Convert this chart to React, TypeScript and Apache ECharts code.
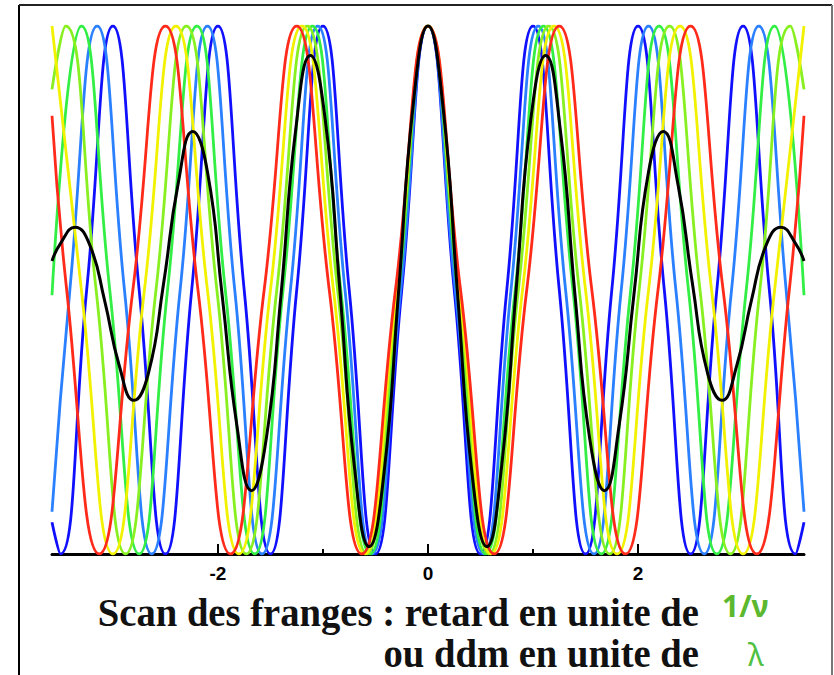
import React, { useEffect, useRef } from "react";
import * as echarts from "echarts";

// x-axis (delay in units of 1/nu) tick values and labels
const tickValues = [-2, 0, 2];
const tickLabels = ["-2", "0", "2"];
const minorTickValues = [-1, 1];
const xMin = -3.58;
const xMax = 3.58;

// Fringe intensity curves: [delay, normalized intensity]
const blueCurve: number[][] = [
  [-3.58, 0.06], [-3.5, 0], [-3.25, 0.5], [-3, 1], [-2.75, 0.5], [-2.5, 0], [-2.25, 0.5], [-2, 1],
  [-1.75, 0.5], [-1.5, 0], [-1.25, 0.5], [-1, 1], [-0.75, 0.5], [-0.5, 0], [-0.25, 0.5], [0, 1],
  [0.25, 0.5], [0.5, 0], [0.75, 0.5], [1, 1], [1.25, 0.5], [1.5, 0], [1.75, 0.5], [2, 1],
  [2.25, 0.5], [2.5, 0], [2.75, 0.5], [3, 1], [3.25, 0.5], [3.5, 0], [3.58, 0.06],
];
const lightBlueCurve: number[][] = [
  [-3.58, 0.08], [-3.41, 0.5], [-3.15, 1], [-2.89, 0.5], [-2.63, 0], [-2.36, 0.5], [-2.1, 1],
  [-1.84, 0.5], [-1.58, 0], [-1.31, 0.5], [-1.05, 1], [-0.79, 0.5], [-0.53, 0], [-0.26, 0.5], [0, 1],
  [0.26, 0.5], [0.53, 0], [0.79, 0.5], [1.05, 1], [1.31, 0.5], [1.58, 0], [1.84, 0.5], [2.1, 1],
  [2.36, 0.5], [2.63, 0], [2.89, 0.5], [3.15, 1], [3.41, 0.5], [3.58, 0.08],
];
const greenCurve: number[][] = [
  [-3.58, 0.49], [-3.3, 1], [-3.03, 0.5], [-2.75, 0], [-2.48, 0.5], [-2.2, 1], [-1.93, 0.5],
  [-1.65, 0], [-1.38, 0.5], [-1.1, 1], [-0.83, 0.5], [-0.55, 0], [-0.28, 0.5], [0, 1],
  [0.28, 0.5], [0.55, 0], [0.83, 0.5], [1.1, 1], [1.38, 0.5], [1.65, 0], [1.93, 0.5], [2.2, 1],
  [2.48, 0.5], [2.75, 0], [3.03, 0.5], [3.3, 1], [3.58, 0.49],
];
const lightGreenCurve: number[][] = [
  [-3.58, 0.88], [-3.45, 1], [-3.16, 0.5], [-2.88, 0], [-2.59, 0.5], [-2.3, 1], [-2.01, 0.5],
  [-1.73, 0], [-1.44, 0.5], [-1.15, 1], [-0.86, 0.5], [-0.58, 0], [-0.29, 0.5], [0, 1],
  [0.29, 0.5], [0.58, 0], [0.86, 0.5], [1.15, 1], [1.44, 0.5], [1.73, 0], [2.01, 0.5], [2.3, 1],
  [2.59, 0.5], [2.88, 0], [3.16, 0.5], [3.45, 1], [3.58, 0.88],
];
const yellowCurve: number[][] = [
  [-3.58, 1], [-3.3, 0.5], [-3, 0], [-2.7, 0.5], [-2.4, 1], [-2.1, 0.5], [-1.8, 0], [-1.5, 0.5],
  [-1.2, 1], [-0.9, 0.5], [-0.6, 0], [-0.3, 0.5], [0, 1], [0.3, 0.5], [0.6, 0], [0.9, 0.5],
  [1.2, 1], [1.5, 0.5], [1.8, 0], [2.1, 0.5], [2.4, 1], [2.7, 0.5], [3, 0], [3.3, 0.5], [3.58, 1],
];
const redCurve: number[][] = [
  [-3.58, 0.83], [-3.44, 0.5], [-3.13, 0], [-2.81, 0.5], [-2.5, 1], [-2.19, 0.5], [-1.88, 0],
  [-1.56, 0.5], [-1.25, 1], [-0.94, 0.5], [-0.63, 0], [-0.31, 0.5], [0, 1], [0.31, 0.5],
  [0.63, 0], [0.94, 0.5], [1.25, 1], [1.56, 0.5], [1.88, 0], [2.19, 0.5], [2.5, 1], [2.81, 0.5],
  [3.13, 0], [3.44, 0.5], [3.58, 0.83],
];
// polychromatic (summed) fringe
const blackCurve: number[][] = [
  [-3.58, 0.555], [-3.5, 0.588], [-3.36, 0.619], [-3.22, 0.585], [-3.08, 0.481], [-2.94, 0.357],
  [-2.8, 0.291], [-2.66, 0.344], [-2.52, 0.509], [-2.38, 0.7], [-2.24, 0.8], [-2.1, 0.724],
  [-1.96, 0.49], [-1.82, 0.244], [-1.68, 0.12], [-1.54, 0.218], [-1.4, 0.49], [-1.26, 0.803],
  [-1.12, 0.944], [-0.98, 0.825], [-0.84, 0.502], [-0.7, 0.164], [-0.56, 0.014], [-0.42, 0.151],
  [-0.28, 0.497], [-0.14, 0.852], [0, 1], [0.14, 0.852], [0.28, 0.497], [0.42, 0.151],
  [0.56, 0.014], [0.7, 0.164], [0.84, 0.502], [0.98, 0.825], [1.12, 0.944], [1.26, 0.803],
  [1.4, 0.49], [1.54, 0.218], [1.68, 0.12], [1.82, 0.244], [1.96, 0.49], [2.1, 0.724],
  [2.24, 0.8], [2.38, 0.7], [2.52, 0.509], [2.66, 0.344], [2.8, 0.291], [2.94, 0.357],
  [3.08, 0.481], [3.22, 0.585], [3.36, 0.619], [3.5, 0.588], [3.58, 0.555],
];

const curves = [
  { name: "blue", data: blueCurve, color: "#1010ff", width: 2.8 },
  { name: "lightblue", data: lightBlueCurve, color: "#2a80ff", width: 2.8 },
  { name: "green", data: greenCurve, color: "#33ee44", width: 2.8 },
  { name: "lightgreen", data: lightGreenCurve, color: "#88f020", width: 2.8 },
  { name: "yellow", data: yellowCurve, color: "#f2f200", width: 2.8 },
  { name: "red", data: redCurve, color: "#ff2a1a", width: 2.8 },
  { name: "black", data: blackCurve, color: "#000000", width: 3 },
];

const titleLine1 = "Scan des franges : retard en unite de";
const titleLine2 = "ou ddm en unite de";
const unit1 = "1/ν";
const unit2 = "λ";

export default function App() {
  const ref = useRef<HTMLDivElement>(null);
  useEffect(() => {
    if (!ref.current) return;
    const chart = echarts.init(ref.current, null, { renderer: "svg" });
    chart.setOption({
      animation: false,
      backgroundColor: "#ffffff",
      grid: { left: 52, right: 30, top: 26, bottom: 121 },
      xAxis: [
        {
          type: "value",
          min: xMin,
          max: xMax,
          position: "bottom",
          axisLine: { show: true, onZero: false, lineStyle: { color: "#000", width: 3 } },
          axisTick: {
            show: true,
            inside: true,
            length: 10,
            customValues: tickValues,
            lineStyle: { color: "#000", width: 2 },
          },
          axisLabel: {
            show: true,
            customValues: tickValues,
            formatter: (v: number) => {
              const i = tickValues.indexOf(v);
              return i >= 0 ? tickLabels[i] : "";
            },
            color: "#000",
            fontFamily: "Liberation Sans",
            fontWeight: "bold",
            fontSize: 19,
            margin: 10,
          },
          splitLine: { show: false },
        },
        {
          type: "value",
          min: xMin,
          max: xMax,
          position: "bottom",
          offset: 0,
          axisLine: { show: false },
          axisTick: {
            show: true,
            inside: true,
            length: 5,
            customValues: minorTickValues,
            lineStyle: { color: "#000", width: 2 },
          },
          axisLabel: { show: false },
          splitLine: { show: false },
        },
      ],
      yAxis: { type: "value", min: 0, max: 1, show: false, splitLine: { show: false } },
      series: curves.map((c) => ({
        type: "line",
        name: c.name,
        xAxisIndex: 0,
        data: c.data,
        smooth: true,
        showSymbol: false,
        silent: true,
        lineStyle: { color: c.color, width: c.width },
        z: c.name === "black" ? 5 : 2,
      })),
      graphic: [
        { type: "line", shape: { x1: 19, y1: 5, x2: 19, y2: 675 }, style: { stroke: "#000", lineWidth: 2 } },
        { type: "line", shape: { x1: 19, y1: 5, x2: 832, y2: 5 }, style: { stroke: "#222", lineWidth: 2 } },
        { type: "line", shape: { x1: 832, y1: 5, x2: 832, y2: 675 }, style: { stroke: "#777", lineWidth: 2 } },
        {
          type: "text",
          x: 699,
          y: 613,
          scaleX: 0.966,
          style: {
            text: titleLine1,
            textAlign: "right",
            textVerticalAlign: "middle",
            font: "bold 40px 'Liberation Serif'",
            fill: "#111",
          },
        },
        {
          type: "text",
          x: 699,
          y: 654,
          scaleX: 0.966,
          style: {
            text: titleLine2,
            textAlign: "right",
            textVerticalAlign: "middle",
            font: "bold 40px 'Liberation Serif'",
            fill: "#111",
          },
        },
        {
          type: "text",
          x: 722,
          y: 605,
          style: {
            text: unit1,
            textAlign: "left",
            textVerticalAlign: "middle",
            font: "bold 30px 'Noto Sans'",
            fill: "#5cb82e",
          },
        },
        {
          type: "text",
          x: 748,
          y: 654,
          style: {
            text: unit2,
            textAlign: "left",
            textVerticalAlign: "middle",
            font: "30px 'Noto Sans'",
            fill: "#4fc040",
          },
        },
      ],
    });
    return () => chart.dispose();
  }, []);
  return (
    <div
      ref={ref}
      style={{ position: "fixed", left: 0, top: 0, width: 834, height: 675, background: "#fff" }}
    />
  );
}
